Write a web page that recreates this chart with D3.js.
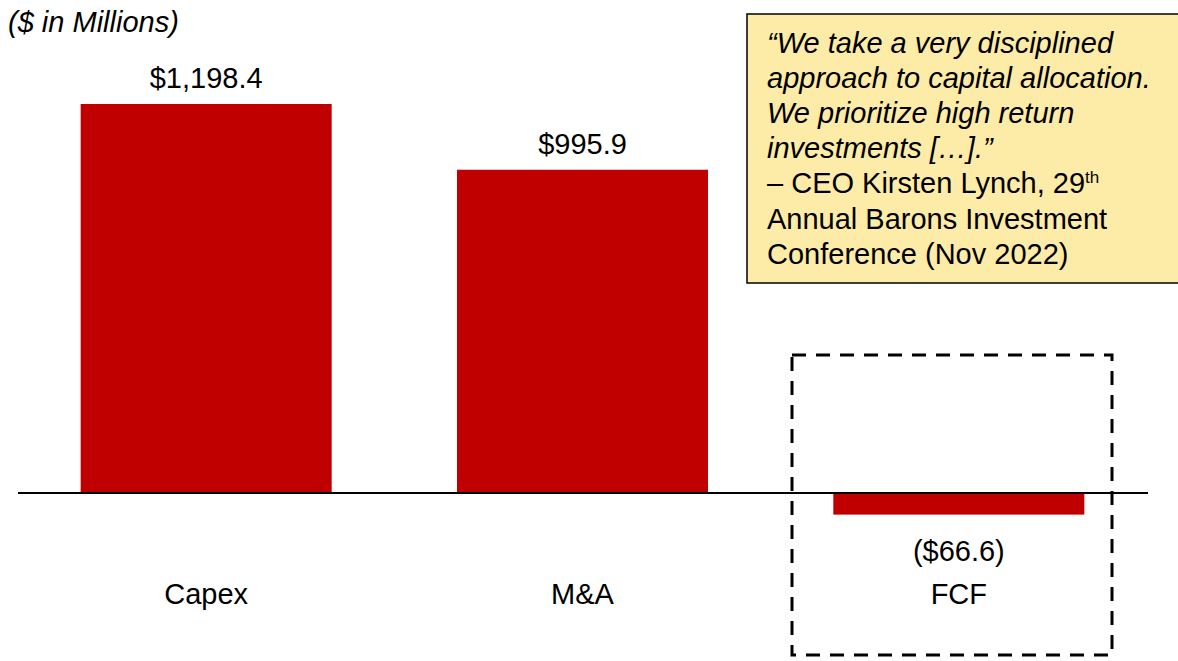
<!DOCTYPE html>
<meta charset="utf-8">
<style>
body { margin: 0; background: #fff; }
text { font-family: Arial, "Liberation Sans", sans-serif; fill: #000; }
</style>
<body>
<svg width="1178" height="661"></svg>
</body>
<script src="https://d3js.org/d3.v7.min.js"></script>
<script>

var categories = ["Capex", "M&A", "FCF"];
var values = [1198.4, 995.9, -66.6];
var valueLabels = ["$1,198.4", "$995.9", "($66.6)"];
var quoteLines = [
  "\u201CWe take a very disciplined",
  "approach to capital allocation.",
  "We prioritize high return",
  "investments [\u2026].\u201D"
];
var sourceLines = ["\u2013 CEO Kirsten Lynch, 29", "Annual Barons Investment", "Conference (Nov 2022)"];

var svg = d3.select("svg"),
    width = +svg.attr("width"),
    height = +svg.attr("height");

var x = d3.scaleBand()
    .domain(categories)
    .range([18, 1147])
    .paddingInner(0.333)
    .paddingOuter(0.1665);

var y = d3.scaleLinear()
    .domain([0, 1198.4])
    .range([493, 104]);

// dashed highlight round FCF
svg.append("rect")
    .attr("x", 792)
    .attr("y", 355)
    .attr("width", 320)
    .attr("height", 300)
    .attr("fill", "none")
    .attr("stroke", "#000")
    .attr("stroke-width", 3)
    .attr("stroke-dasharray", "14,10");

svg.selectAll(".bar")
    .data(values)
  .enter().append("rect")
    .attr("class", "bar")
    .attr("x", function(d, i) { return x(categories[i]); })
    .attr("width", x.bandwidth())
    .attr("y", function(d) { return y(Math.max(0, d)); })
    .attr("height", function(d) { return Math.abs(y(d) - y(0)); })
    .attr("fill", "#C00000");

svg.append("line")
    .attr("x1", 18)
    .attr("x2", 1148)
    .attr("y1", y(0))
    .attr("y2", y(0))
    .attr("stroke", "#000")
    .attr("stroke-width", 2);

svg.selectAll(".val")
    .data(values)
  .enter().append("text")
    .attr("class", "val")
    .attr("x", function(d, i) { return x(categories[i]) + x.bandwidth() / 2; })
    .attr("y", function(d) { return d >= 0 ? y(d) - 16 : y(d) + 46; })
    .attr("text-anchor", "middle")
    .style("font-size", "29px")
    .text(function(d, i) { return valueLabels[i]; });

svg.selectAll(".cat")
    .data(categories)
  .enter().append("text")
    .attr("class", "cat")
    .attr("x", function(d) { return x(d) + x.bandwidth() / 2; })
    .attr("y", 604)
    .attr("text-anchor", "middle")
    .style("font-size", "29px")
    .text(function(d) { return d; });

svg.append("text")
    .attr("x", 8)
    .attr("y", 32)
    .style("font-size", "29px")
    .style("font-style", "italic")
    .text("($ in Millions)");

// quote box
var q = svg.append("g");
q.append("rect")
    .attr("x", 747)
    .attr("y", 14)
    .attr("width", 440)
    .attr("height", 269)
    .attr("fill", "#FDEBA8")
    .attr("stroke", "#000")
    .attr("stroke-width", 1.5);

q.selectAll(".ql")
    .data(quoteLines)
  .enter().append("text")
    .attr("x", 767)
    .attr("y", function(d, i) { return 52.5 + i * 35.2; })
    .style("font-size", "29px")
    .style("font-style", "italic")
    .text(function(d) { return d; });

var src = q.selectAll(".sl")
    .data(sourceLines)
  .enter().append("text")
    .attr("x", 767)
    .attr("y", function(d, i) { return 52.5 + (i + 4) * 35.2; })
    .style("font-size", "29px")
    .text(function(d) { return d; });

src.filter(function(d, i) { return i === 0; })
  .append("tspan")
    .attr("dy", -10)
    .style("font-size", "17px")
    .text("th");

</script>
</html>
